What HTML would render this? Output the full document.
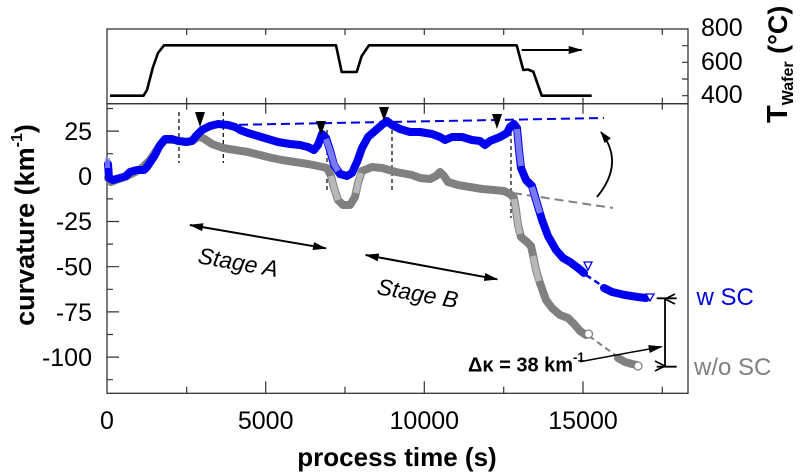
<!DOCTYPE html>
<html>
<head>
<meta charset="utf-8">
<style>
html,body{margin:0;padding:0;background:#fff;}
svg{display:block;}
text{font-family:"Liberation Sans",Arial,sans-serif;}
</style>
</head>
<body>
<svg width="800" height="474" viewBox="0 0 800 474" xmlns="http://www.w3.org/2000/svg">
<defs>
<marker id="ah" viewBox="0 0 14 8" refX="13" refY="4" markerWidth="14" markerHeight="8" markerUnits="userSpaceOnUse" orient="auto-start-reverse">
<path d="M0,0 L14,4 L0,8 z" fill="#000"/>
</marker>
<marker id="ahs" viewBox="0 0 12 8" refX="11" refY="4" markerWidth="12" markerHeight="8" markerUnits="userSpaceOnUse" orient="auto-start-reverse">
<path d="M0,0 L12,4 L0,8 z" fill="#000"/>
</marker>
<marker id="av" viewBox="0 0 12 12" refX="6" refY="1" markerWidth="12" markerHeight="12" markerUnits="userSpaceOnUse" orient="auto-start-reverse">
<path d="M1,11 L6,1 L11,11" fill="none" stroke="#000" stroke-width="1.6"/>
</marker>
</defs>

<!-- Top panel frame -->
<rect x="107" y="29" width="581" height="74.7" fill="none" stroke="#333" stroke-width="1.3"/>
<!-- Main panel frame -->
<rect x="107" y="103.7" width="581" height="289.6" fill="none" stroke="#333" stroke-width="1.3"/>

<!-- Top panel ticks -->
<g stroke="#333" stroke-width="1.2">
<path d="M186.7,29v6M265.7,29v6M345,29v6M424.3,29v6M503.7,29v6M583,29v6M662.3,29v6"/>
<path d="M186.7,103.7v-6M265.7,103.7v-6M345,103.7v-6M424.3,103.7v-6M503.7,103.7v-6M583,103.7v-6M662.3,103.7v-6"/>
<path d="M688,45.7h-6M688,62.3h-6M688,79h-6M688,95.7h-6"/>
<!-- main top -->
<path d="M265.7,103.7v10M424.3,103.7v10M583,103.7v10M186.7,103.7v6M345,103.7v6M503.7,103.7v6M662.3,103.7v6"/>
<!-- main bottom -->
<path d="M265.7,393.3v-12M424.3,393.3v-12M583,393.3v-12M186.7,393.3v-6.5M345,393.3v-6.5M503.7,393.3v-6.5M662.3,393.3v-6.5"/>
<!-- main left -->
<path d="M107,131.1h12M107,176.3h12M107,221.5h12M107,266.7h12M107,311.9h12M107,357.1h12"/>
<path d="M107,108.5h6M107,153.7h6M107,198.9h6M107,244.1h6M107,289.3h6M107,334.5h6M107,379.7h6"/>
</g>

<!-- Temperature curve -->
<polyline fill="none" stroke="#000" stroke-width="2.6" stroke-linejoin="round"
points="110,95.7 143.5,95.7 147,90 153,67 158,53 164,45.3 336,45.3 341.7,72 356.7,72 361.7,56 369,45.3 516.7,45.3 523.3,70 528,69.5 533.3,71.7 541.7,95.7 591.7,95.7"/>
<line x1="521.7" y1="50" x2="581.7" y2="50" stroke="#000" stroke-width="2" marker-end="url(#ah)"/>

<!-- Dashed vertical lines -->
<g stroke="#000" stroke-width="1.2" stroke-dasharray="4,3">
<line x1="179" y1="112" x2="179" y2="163"/>
<line x1="223.3" y1="112" x2="223.3" y2="163"/>
<line x1="327" y1="130" x2="327" y2="193"/>
<line x1="392" y1="123" x2="392" y2="193"/>
<line x1="511" y1="132" x2="511" y2="218"/>
</g>

<!-- Trend dashed lines -->
<line x1="225" y1="125" x2="604" y2="118" stroke="#0000e0" stroke-width="2" stroke-dasharray="9,5"/>
<line x1="513" y1="193" x2="613" y2="208" stroke="#808080" stroke-width="2" stroke-dasharray="9,5"/>

<!-- Gray curve (w/o SC) -->
<polyline fill="none" stroke="#808080" stroke-width="8" stroke-linejoin="round" stroke-linecap="round"
points="108,178 111,182 116,180 125,177 135,172 142,168 150,160 158,148 165,140 175,140 185,142 192,141 198,137 203,138 212,144 223,148 235,150 248,152 260,155 272,158 282,160 295,162 308,164 318,166 327,168 331,176 334,188 338,200 343,205 350,205 355,197 358,183 362,171 372,167 382,168 396,172 412,175 420,178 430,179 436,176 440,172 444,176 448,182 458,185 470,187 482,189 494,190 504,191 510,194 514,198 516,210 518,225 521,237 527,242 531,246 533,255 536,270 540,283 546,300 552,308 560,315 568,318 575,325 580,331 586,335"/>
<polyline fill="none" stroke="#b8b8b8" stroke-width="6" stroke-linejoin="round"
points="331,176 334,188 338,200"/>
<polyline fill="none" stroke="#b8b8b8" stroke-width="6" stroke-linejoin="round"
points="356,193 358,183 361,173"/>
<polyline fill="none" stroke="#b8b8b8" stroke-width="6" stroke-linejoin="round"
points="514,199 516,210 518,225 520,234"/>
<polyline fill="none" stroke="#b8b8b8" stroke-width="6" stroke-linejoin="round"
points="533,256 536,270 539,281"/>
<line x1="589" y1="336" x2="618" y2="357" stroke="#808080" stroke-width="2" stroke-dasharray="6,4"/>
<polyline fill="none" stroke="#808080" stroke-width="8" stroke-linejoin="round" stroke-linecap="round"
points="618,358 625,362 632,364 637,365"/>
<circle cx="588.5" cy="334" r="4" fill="#fff" stroke="#808080" stroke-width="1.3"/>
<circle cx="638" cy="366" r="4" fill="#fff" stroke="#808080" stroke-width="1.3"/>

<!-- Blue curve (w SC) -->
<polyline fill="none" stroke="#0000f0" stroke-width="8" stroke-linejoin="round" stroke-linecap="round"
points="108,164 109,178 113,180 120,178 126,176 130,172 137,170 144,170 147,167 155,155 160,145 165,139 172,139 178,141 187,142 192,141 196,136 202,130 210,126 218,124 228,125 235,127 240,130 248,133 258,136 268,139 278,142 290,144 300,145 308,147 314,150 318,145 322,134 326,138 330,150 334,165 340,174 347,176 352,173 357,162 362,148 368,137 376,130 383,124 387,121 392,125 400,129 410,132 420,132 432,134 440,137 445,140 452,137 462,137 472,140 480,141 485,145 490,141 500,137 507,133 510,127 514,124 517,128 519,150 521,168 526,180 532,186 536,200 542,220 548,236 556,250 563,258 570,262 578,268 584,273"/>
<polyline fill="none" stroke="#7a7af5" stroke-width="6" stroke-linejoin="round"
points="326,139 330,150 334,164 338,171"/>
<polyline fill="none" stroke="#7a7af5" stroke-width="6" stroke-linejoin="round"
points="517,129 519,150 521,166"/>
<polyline fill="none" stroke="#7a7af5" stroke-width="6" stroke-linejoin="round"
points="532,187 536,200 540,213"/>
<line x1="586" y1="275" x2="604" y2="287" stroke="#0000e0" stroke-width="2.5" stroke-dasharray="6,4"/>
<polyline fill="none" stroke="#0000f0" stroke-width="8" stroke-linejoin="round" stroke-linecap="round"
points="604,288 612,292 625,295 638,297 646,298"/>
<path d="M584,262 L592,262 L588,270 z" fill="#fff" stroke="#0000f0" stroke-width="1.3"/>
<path d="M646,294 L654,294 L650,301 z" fill="#fff" stroke="#0000f0" stroke-width="1.3"/>
<rect x="105" y="158" width="5" height="10" fill="#8888ff" opacity="0.8"/>

<!-- Triangles -->
<g fill="#000">
<path d="M195,112 L205,112 L200,127 z"/>
<path d="M316,121 L326,121 L321,135 z"/>
<path d="M379,107 L389,107 L384,121 z"/>
<path d="M492,114 L502,114 L497,129 z"/>
</g>

<!-- Curved arrow -->
<path d="M597,197 Q625,163 601,132" fill="none" stroke="#000" stroke-width="1.8" marker-end="url(#ahs)"/>

<!-- Stage arrows -->
<line x1="190" y1="225" x2="326" y2="248.3" stroke="#000" stroke-width="2" marker-start="url(#ah)" marker-end="url(#ah)"/>
<line x1="365.7" y1="255" x2="497.3" y2="279.3" stroke="#000" stroke-width="2" marker-start="url(#ah)" marker-end="url(#ah)"/>
<text x="197" y="263" font-size="23" font-style="italic" transform="rotate(10 197 263)">Stage A</text>
<text x="376" y="294" font-size="23" font-style="italic" transform="rotate(10 376 294)">Stage B</text>

<!-- Delta kappa annotation -->
<line x1="665" y1="299" x2="665" y2="366" stroke="#000" stroke-width="1.8" marker-start="url(#av)" marker-end="url(#av)"/>
<line x1="656.7" y1="298.3" x2="676.7" y2="298.3" stroke="#000" stroke-width="1.8"/>
<line x1="656.7" y1="366.7" x2="676.7" y2="366.7" stroke="#000" stroke-width="1.8"/>
<line x1="580" y1="361.7" x2="661.7" y2="346.7" stroke="#000" stroke-width="1.5" marker-end="url(#ah)"/>
<text x="468" y="371.5" font-size="20" font-weight="bold">Δκ = 38 km<tspan font-size="13" dy="-10">-1</tspan></text>

<text x="696.5" y="305" font-size="24" fill="#0000dd">w SC</text>
<text x="694" y="375" font-size="24" fill="#808080">w/o SC</text>

<!-- Axis tick labels -->
<g font-size="25" text-anchor="end">
<text x="92" y="140">25</text>
<text x="92" y="185">0</text>
<text x="92" y="230">-25</text>
<text x="92" y="275.5">-50</text>
<text x="92" y="321">-75</text>
<text x="92" y="366">-100</text>
</g>
<g font-size="25" text-anchor="middle">
<text x="107" y="429">0</text>
<text x="265.7" y="429">5000</text>
<text x="424.3" y="429">10000</text>
<text x="583" y="429">15000</text>
</g>
<g font-size="25">
<text x="701" y="36">800</text>
<text x="701" y="70">600</text>
<text x="701" y="103">400</text>
</g>

<!-- Axis titles -->
<text x="397" y="466" font-size="26" font-weight="bold" text-anchor="middle">process time (s)</text>
<text transform="translate(34,225) rotate(-90)" font-size="27" font-weight="bold" text-anchor="middle">curvature (km<tspan font-size="16" dy="-12">-1</tspan><tspan dy="12">)</tspan></text>
<text transform="translate(787,123) rotate(-90)" font-size="29" font-weight="bold">T<tspan font-size="16" dy="6">Wafer</tspan><tspan font-size="27" dy="-6"> (°C)</tspan></text>
</svg>
</body>
</html>
